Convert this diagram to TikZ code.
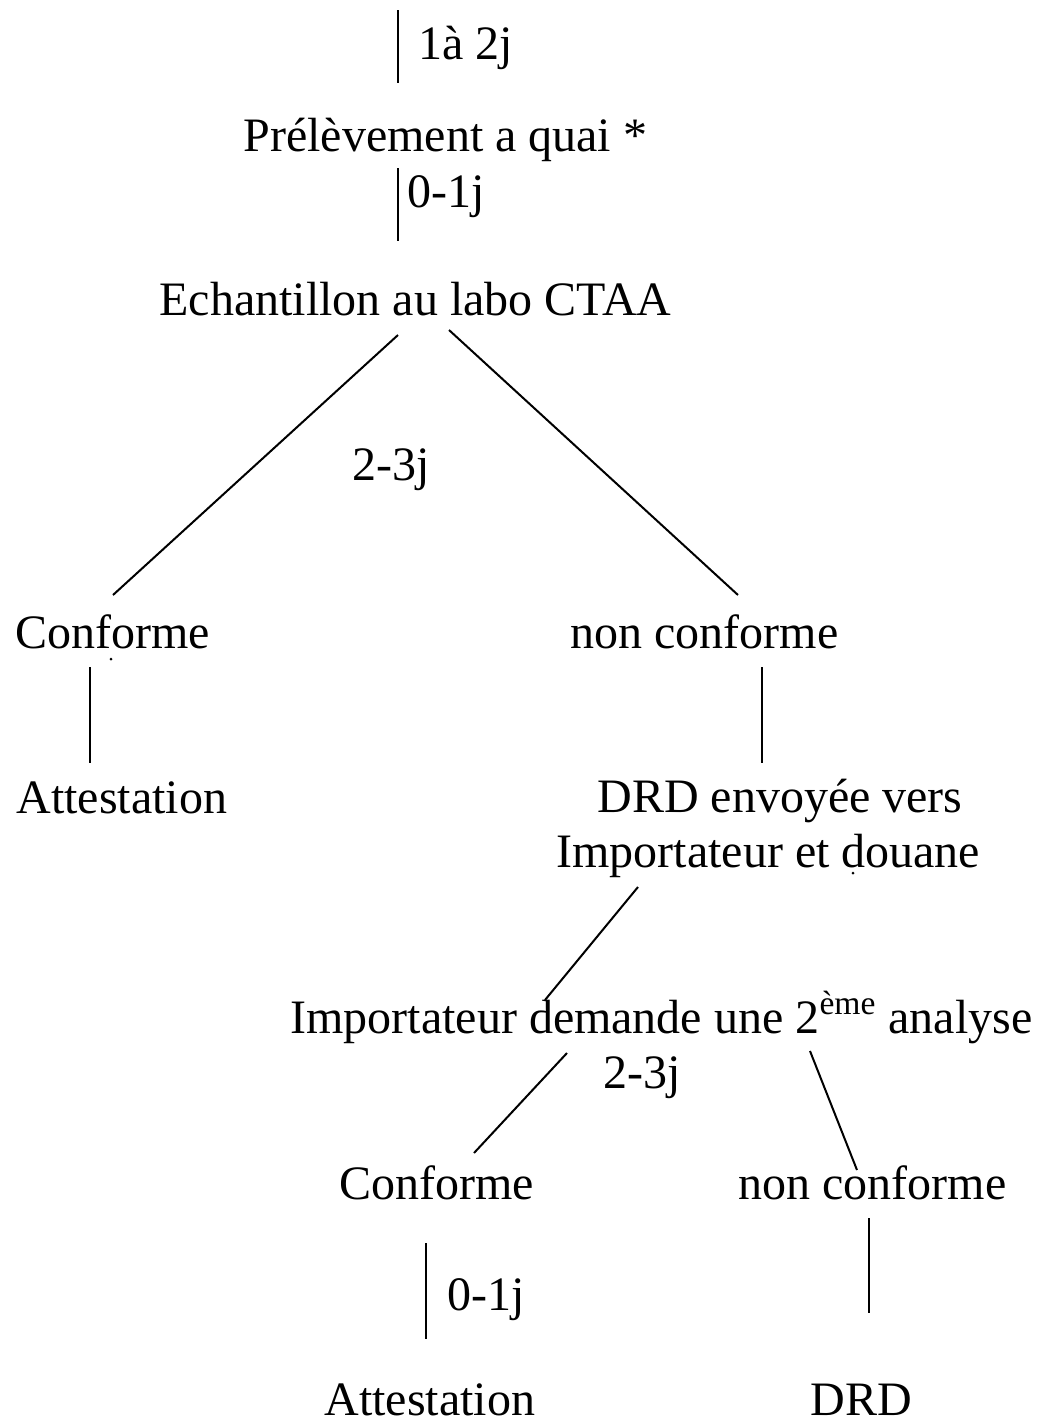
\documentclass[tikz,border=0pt]{standalone}
\usepackage{fontspec}
\setmainfont{Liberation Serif}
\usepackage{tikz}
\tikzset{basic/.style={inner sep=0pt,anchor=base west,font=\fontsize{24}{28}\selectfont}}
\tikzset{step label/.style={basic}}
\tikzset{link/.style={draw,line width=1pt}}

\begin{document}
\begin{tikzpicture}[x=0.5pt,y=-0.5pt]
        \useasboundingbox (0,0) rectangle (1039,1426);
        % etapes
        \node[basic] (prel) at (243,151) {Prélèvement a quai *};
        \node[basic] (ech) at (159,315) {Echantillon au labo CTAA};
        \node[basic] (conf1) at (15,648) {Conforme};
        \node[basic] (nonc1) at (570,648) {non conforme};
        \node[basic] (att1) at (16,813) {Attestation};
        \node[basic] (drda) at (597,812) {DRD envoyée vers};
        \node[basic] (drdb) at (556,867) {Importateur et douane};
        \node[basic] (imp) at (290,1033) {Importateur demande une 2\textsuperscript{ème} analyse};
        \node[basic] (conf2) at (339,1199) {Conforme};
        \node[basic] (nonc2) at (738,1199) {non conforme};
        \node[basic] (att2) at (324,1415) {Attestation};
        \node[basic] (drd2) at (810,1415) {DRD};
        % durees
        \node[step label] (d12) at (418,59) {1à 2j};
        \node[step label] (d01a) at (407,207) {0-1j};
        \node[step label] (d23a) at (352,480) {2-3j};
        \node[step label] (d23b) at (603,1088) {2-3j};
        \node[step label] (d01b) at (447,1310) {0-1j};
        % extremites des traits
        \coordinate (a1) at (398,10);   \coordinate (a2) at (398,83);
        \coordinate (b1) at (398,168);  \coordinate (b2) at (398,241);
        \coordinate (c1) at (398,335);  \coordinate (c2) at (113,595);
        \coordinate (e1) at (449,330);  \coordinate (e2) at (738,595);
        \coordinate (f1) at (90,667);   \coordinate (f2) at (90,763);
        \coordinate (g1) at (762,667);  \coordinate (g2) at (762,763);
        \coordinate (h1) at (638,887);  \coordinate (h2) at (545,1000);
        \coordinate (i1) at (567,1053); \coordinate (i2) at (474,1153);
        \coordinate (k1) at (810,1051); \coordinate (k2) at (857,1170);
        \coordinate (m1) at (426,1243); \coordinate (m2) at (426,1339);
        \coordinate (n1) at (869,1218); \coordinate (n2) at (869,1313);
            \path[link] (a1) -- (a2);
            \path[link] (b1) -- (b2);
            \path[link] (c1) -- (c2);
            \path[link] (e1) -- (e2);
            \path[link] (f1) -- (f2);
            \path[link] (g1) -- (g2);
            \path[link] (h1) -- (h2);
            \path[link] (i1) -- (i2);
            \path[link] (k1) -- (k2);
            \path[link] (m1) -- (m2);
            \path[link] (n1) -- (n2);
        % points isoles
        \fill (111,659) circle (1.5);
        \fill (853,873) circle (1.5);
    \end{tikzpicture}
\end{document}
